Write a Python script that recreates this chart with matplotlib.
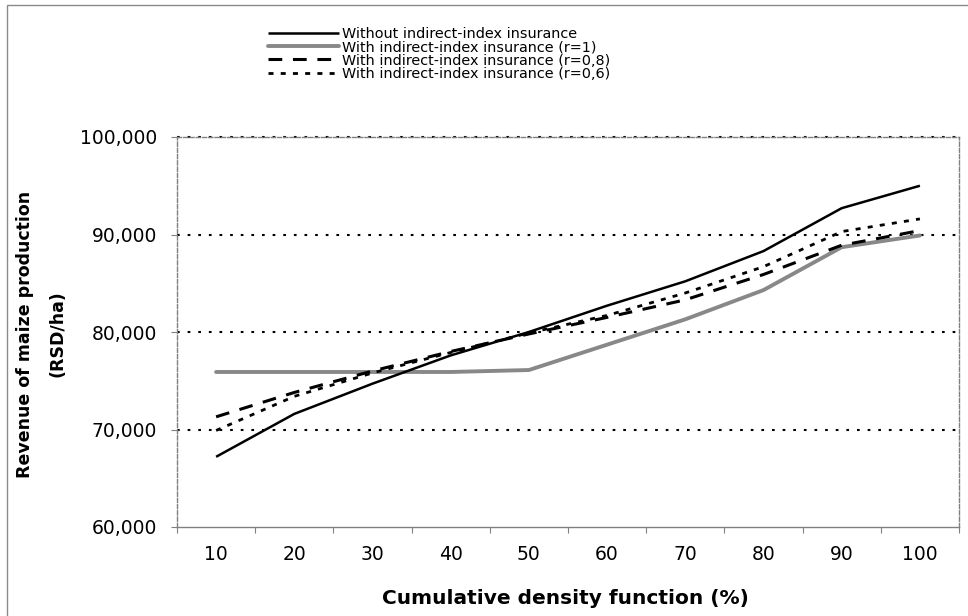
import matplotlib
matplotlib.use("Agg")
import matplotlib.pyplot as plt
import numpy as np
from matplotlib.patches import Rectangle

categories = ["10", "20", "30", "40", "50", "60", "70", "80", "90", "100"]
without_ins = [67200, 71600, 74700, 77600, 80000, 82700, 85200, 88300, 92700, 95000]
with_r1 = [75900, 75900, 75900, 75900, 76100, 78700, 81300, 84300, 88700, 89900]
with_r08 = [71300, 73800, 76000, 78000, 79800, 81500, 83300, 85900, 88900, 90400]
with_r06 = [69900, 73400, 75800, 77900, 79900, 81700, 84000, 86700, 90300, 91600]
labels = ["Without indirect-index insurance",
          "With indirect-index insurance (r=1)",
          "With indirect-index insurance (r=0,8)",
          "With indirect-index insurance (r=0,6)"]
y_ticks = [60000, 70000, 80000, 90000, 100000]
y_ticklabels = ["60,000", "70,000", "80,000", "90,000", "100,000"]

plt.rcParams['font.family'] = ['DejaVu Sans']

W, H = 968, 616
fig = plt.figure(figsize=(W / 100, H / 100), dpi=100)
ax = fig.add_axes([177 / W, 1 - 527 / H, (959 - 177) / W, (527 - 137) / H])

# outer border (left and top visible)
fig.patches.append(Rectangle((7 / W, -0.1), 1.2, 1.1 - 5 / H, transform=fig.transFigure,
                             fill=False, edgecolor="#8a8a8a", linewidth=1.0))

x = np.arange(len(categories))
ax.set_xlim(-0.5, len(categories) - 0.5)
ax.set_ylim(60000, 100000)

# gridlines
for yv in y_ticks[1:]:
    ax.axhline(yv, color="black", linewidth=1.5, linestyle=(0, (1.3, 3.8)), zorder=1,
               clip_on=False)

ax.plot(x, without_ins, color="black", linewidth=1.8, zorder=5, label=labels[0],
        solid_capstyle="butt")
ax.plot(x, with_r1, color="#888888", linewidth=2.8, zorder=4, label=labels[1],
        solid_capstyle="round")
ax.plot(x, with_r08, color="black", linewidth=2.2, linestyle=(0, (4.5, 3.5)), zorder=5,
        label=labels[2])
ax.plot(x, with_r06, color="black", linewidth=2.0, linestyle=(0, (1.8, 2.6)), zorder=5,
        label=labels[3])

# spines
for s in ["left", "right", "top"]:
    ax.spines[s].set_color("#808080")
    ax.spines[s].set_linestyle((0, (3, 1.5)))
    ax.spines[s].set_linewidth(1.0)
ax.spines["bottom"].set_color("#808080")
ax.spines["bottom"].set_linewidth(1.0)

ax.set_yticks(y_ticks)
ax.set_yticklabels(y_ticklabels)
ax.tick_params(axis="y", length=4.5, width=0.8, color="#808080", pad=10, labelsize=13.5)

ax.set_xticks(np.arange(-0.5, len(categories), 1.0))
ax.set_xticklabels([])
ax.set_xticks(x, minor=True)
ax.set_xticklabels(categories, minor=True)
ax.tick_params(axis="x", which="major", length=4, width=0.8, color="#808080")
ax.tick_params(axis="x", which="minor", length=0, pad=13, labelsize=13.5)

fig.text(565 / W, 1 - 598 / H, "Cumulative density function (%)", ha="center", va="center",
         fontsize=14.5, fontweight="bold")
fig.text(25 / W, 1 - 334 / H, "Revenue of maize production", ha="center", va="center",
         rotation=90, fontsize=12.5, fontweight="bold")
fig.text(58 / W, 1 - 334 / H, "(RSD/ha)", ha="center", va="center",
         rotation=90, fontsize=12.5, fontweight="bold")

leg = ax.legend(loc="upper left", bbox_to_anchor=(268 / W, 1 - 27 / H),
                bbox_transform=fig.transFigure, frameon=False, fontsize=10.4,
                handlelength=4.9, handletextpad=0.2, labelspacing=-0.05,
                borderpad=0, borderaxespad=0)

fig.savefig("out.png", dpi=100)
